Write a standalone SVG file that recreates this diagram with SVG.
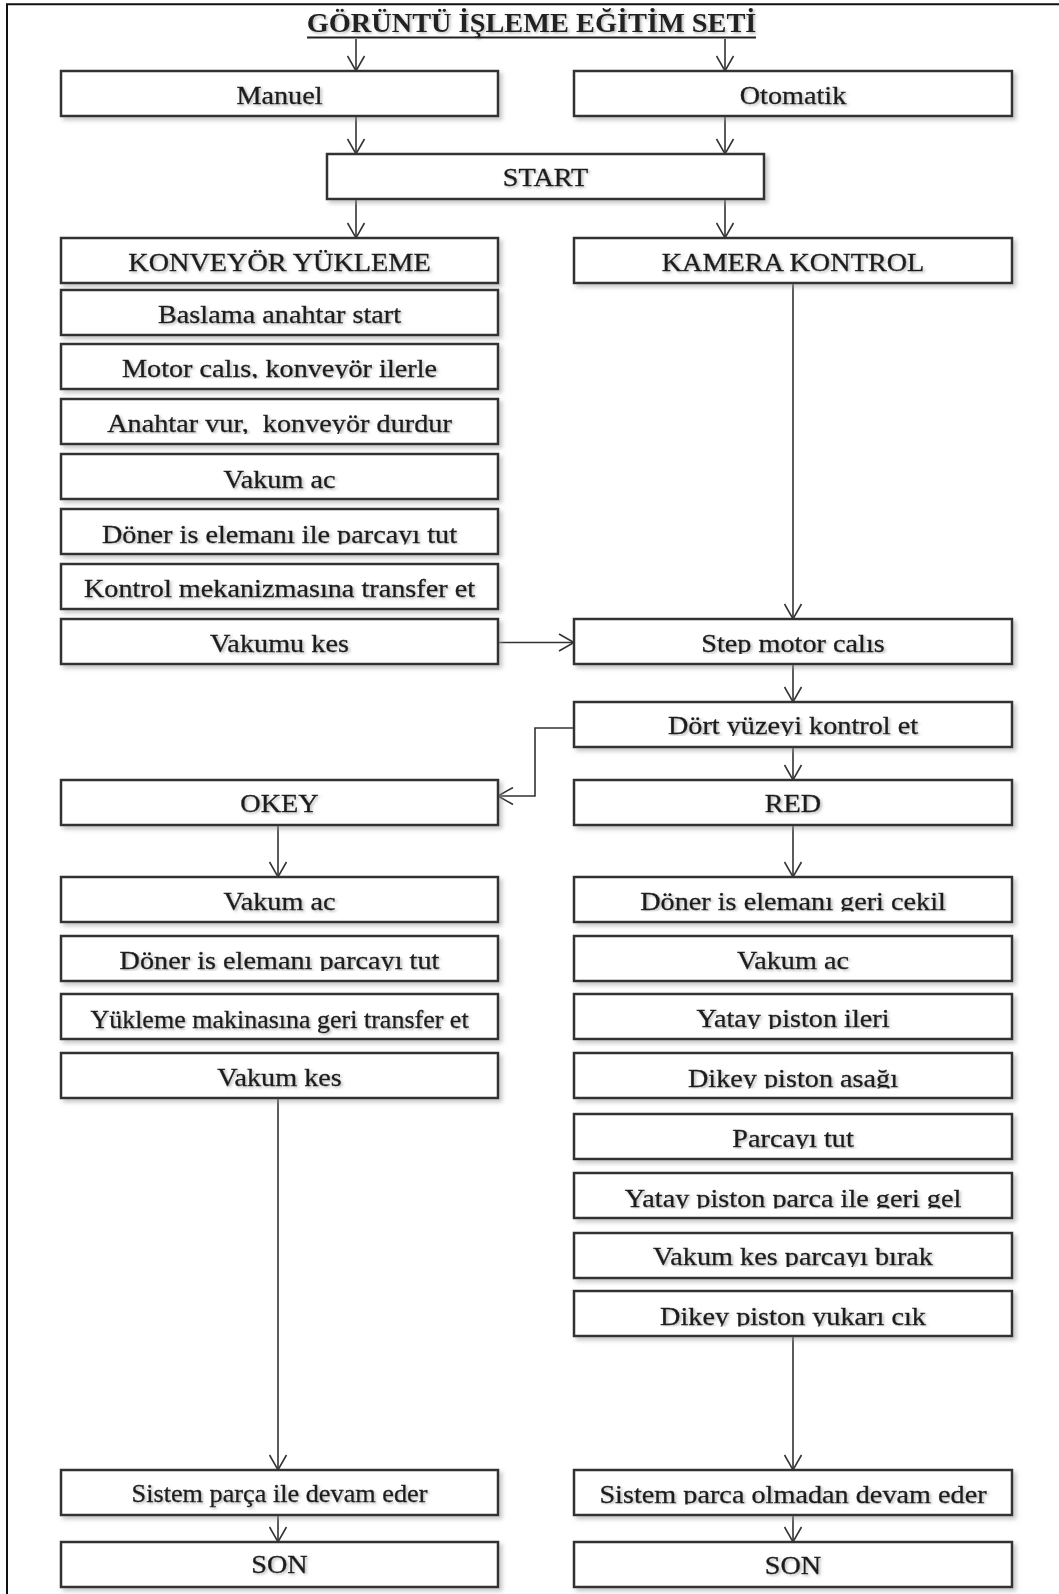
<svg xmlns="http://www.w3.org/2000/svg" width="1059" height="1594" viewBox="0 0 1059 1594">
<style>
.box{fill:#fff;stroke:#333;stroke-width:2.5;filter:url(#bs)}
.lbl{font-family:"Liberation Serif","Times New Roman",serif;font-size:25px;fill:#1c1c1c;stroke:#1c1c1c;stroke-width:0.35;text-anchor:middle;filter:url(#ts)}
.ttl{font-family:"Liberation Serif","Times New Roman",serif;font-size:26.5px;font-weight:bold;fill:#222;text-anchor:middle;filter:url(#ts)}
.conn{fill:none;stroke:#333;stroke-width:1.6;marker-end:url(#ah)}
.frame{fill:none;stroke:#111;stroke-width:2}
.cl{clip-path:url(#desc)}
</style>
<defs>
<filter id="bs" x="-5%" y="-20%" width="115%" height="160%">
<feDropShadow dx="3" dy="3" stdDeviation="2" flood-color="#999" flood-opacity="0.55"/>
</filter>
<filter id="ts" x="-10%" y="-30%" width="120%" height="170%">
<feDropShadow dx="1.5" dy="1.5" stdDeviation="1.2" flood-color="#888" flood-opacity="0.6"/>
</filter>
<clipPath id="desc" clipPathUnits="userSpaceOnUse"><rect x="-300" y="-40" width="600" height="42"/></clipPath>
<marker id="ah" markerUnits="userSpaceOnUse" viewBox="0 0 18 19" refX="16" refY="9.5" markerWidth="18" markerHeight="19" orient="auto">
<path d="M1,1 L16,9.5 L1,18" fill="none" stroke="#333" stroke-width="1.6"/>
</marker>
</defs>
<rect x="0" y="0" width="1059" height="1594" fill="#fff"/>
<g id="frame">
<path class="frame" d="M7,1594 L7,4.2 L1059,4.2"/>
</g>
<g id="title">
<text class="ttl" transform="translate(531.5 32) scale(1.07 1)">GÖRÜNTÜ İŞLEME EĞİTİM SETİ</text>
<line x1="307" y1="37.5" x2="756" y2="37.5" stroke="#222" stroke-width="2.2"/>
</g>
<g id="connectors">
<line class="conn" x1="356" y1="39" x2="356" y2="71"/>
<line class="conn" x1="725" y1="39" x2="725" y2="71"/>
<line class="conn" x1="356" y1="116" x2="356" y2="154"/>
<line class="conn" x1="725" y1="116" x2="725" y2="154"/>
<line class="conn" x1="356" y1="199" x2="356" y2="238"/>
<line class="conn" x1="725" y1="199" x2="725" y2="238"/>
<line class="conn" x1="793" y1="283" x2="793" y2="619"/>
<line class="conn" x1="498" y1="642.5" x2="574" y2="642.5"/>
<line class="conn" x1="793" y1="664" x2="793" y2="702"/>
<line class="conn" x1="793" y1="747" x2="793" y2="780"/>
<polyline class="conn" points="574,728 535,728 535,796 498,796"/>
<line class="conn" x1="278" y1="825" x2="278" y2="877"/>
<line class="conn" x1="793" y1="825" x2="793" y2="877"/>
<line class="conn" x1="278" y1="1098" x2="278" y2="1470"/>
<line class="conn" x1="793" y1="1336" x2="793" y2="1470"/>
<line class="conn" x1="278" y1="1515" x2="278" y2="1542"/>
<line class="conn" x1="793" y1="1515" x2="793" y2="1542"/>
</g>
<g id="n-manuel"><rect class="box" x="61" y="71" width="437" height="45"/><text class="lbl" transform="translate(279.5 104) scale(1.13 1)">Manuel</text></g>
<g id="n-otomatik"><rect class="box" x="574" y="71" width="438" height="45"/><text class="lbl" transform="translate(793 104) scale(1.13 1)">Otomatik</text></g>
<g id="n-start"><rect class="box" x="327" y="154" width="437" height="45"/><text class="lbl" transform="translate(545.5 185.5) scale(1.13 1)">START</text></g>
<g id="n-konveyor"><rect class="box" x="61" y="238" width="437" height="45"/><text class="lbl" transform="translate(279.5 270.5) scale(1.13 1)">KONVEYÖR YÜKLEME</text></g>
<g id="n-kamera"><rect class="box" x="574" y="238" width="438" height="45"/><text class="lbl" transform="translate(793 270.5) scale(1.13 1)">KAMERA KONTROL</text></g>
<g id="n-baslama"><rect class="box" x="61" y="290" width="437" height="45"/><text class="lbl" transform="translate(279.5 322.5) scale(1.13 1)">Baslama anahtar start</text></g>
<g id="n-motor"><rect class="box" x="61" y="344" width="437" height="45"/><text class="lbl cl" transform="translate(279.5 376.5) scale(1.13 1)">Motor calıs, konveyör ilerle</text></g>
<g id="n-anahtar"><rect class="box" x="61" y="399" width="437" height="45"/><text class="lbl cl" transform="translate(279.5 432) scale(1.13 1)" xml:space="preserve">Anahtar vur,  konveyör durdur</text></g>
<g id="n-vakumac1"><rect class="box" x="61" y="454" width="437" height="45"/><text class="lbl" transform="translate(279.5 487.5) scale(1.13 1)">Vakum ac</text></g>
<g id="n-doner1"><rect class="box" x="61" y="509" width="437" height="45"/><text class="lbl cl" transform="translate(279.5 542.5) scale(1.13 1)">Döner is elemanı ile parcayı tut</text></g>
<g id="n-kontrol"><rect class="box" x="61" y="564" width="437" height="45"/><text class="lbl" transform="translate(279.5 597) scale(1.13 1)">Kontrol mekanizmasına transfer et</text></g>
<g id="n-vakumukes"><rect class="box" x="61" y="619" width="437" height="45"/><text class="lbl" transform="translate(279.5 651.5) scale(1.13 1)">Vakumu kes</text></g>
<g id="n-step"><rect class="box" x="574" y="619" width="438" height="45"/><text class="lbl cl" transform="translate(793 652) scale(1.13 1)">Step motor calıs</text></g>
<g id="n-dort"><rect class="box" x="574" y="702" width="438" height="45"/><text class="lbl cl" transform="translate(793 734) scale(1.13 1)">Dört yüzeyi kontrol et</text></g>
<g id="n-okey"><rect class="box" x="61" y="780" width="437" height="45"/><text class="lbl" transform="translate(279.5 811.5) scale(1.13 1)">OKEY</text></g>
<g id="n-red"><rect class="box" x="574" y="780" width="438" height="45"/><text class="lbl" transform="translate(793 811.5) scale(1.13 1)">RED</text></g>
<g id="n-vakumac2"><rect class="box" x="61" y="877" width="437" height="45"/><text class="lbl" transform="translate(279.5 910) scale(1.13 1)">Vakum ac</text></g>
<g id="n-doner2"><rect class="box" x="61" y="936" width="437" height="45"/><text class="lbl cl" transform="translate(279.5 969) scale(1.13 1)">Döner is elemanı parcayı tut</text></g>
<g id="n-yukleme"><rect class="box" x="61" y="994" width="437" height="45"/><text class="lbl" transform="translate(279.5 1027.5) scale(1.04 1)">Yükleme makinasına geri transfer et</text></g>
<g id="n-vakumkes1"><rect class="box" x="61" y="1053" width="437" height="45"/><text class="lbl" transform="translate(279.5 1086) scale(1.13 1)">Vakum kes</text></g>
<g id="n-donergeri"><rect class="box" x="574" y="877" width="438" height="45"/><text class="lbl cl" transform="translate(793 909.5) scale(1.13 1)">Döner is elemanı geri cekil</text></g>
<g id="n-vakumac3"><rect class="box" x="574" y="936" width="438" height="45"/><text class="lbl" transform="translate(793 968.5) scale(1.13 1)">Vakum ac</text></g>
<g id="n-yatay1"><rect class="box" x="574" y="994" width="438" height="45"/><text class="lbl cl" transform="translate(793 1027) scale(1.13 1)">Yatay piston ileri</text></g>
<g id="n-dikey1"><rect class="box" x="574" y="1053" width="438" height="45"/><text class="lbl cl" transform="translate(793 1086.5) scale(1.13 1)">Dikey piston asağı</text></g>
<g id="n-parca"><rect class="box" x="574" y="1114" width="438" height="45"/><text class="lbl cl" transform="translate(793 1147) scale(1.13 1)">Parcayı tut</text></g>
<g id="n-yatay2"><rect class="box" x="574" y="1173" width="438" height="45"/><text class="lbl cl" transform="translate(793 1206.5) scale(1.13 1)">Yatay piston parca ile geri gel</text></g>
<g id="n-vakumkes2"><rect class="box" x="574" y="1233" width="438" height="45"/><text class="lbl cl" transform="translate(793 1265) scale(1.13 1)">Vakum kes parcayı bırak</text></g>
<g id="n-dikey2"><rect class="box" x="574" y="1291" width="438" height="45"/><text class="lbl cl" transform="translate(793 1324.5) scale(1.13 1)">Dikey piston yukarı cık</text></g>
<g id="n-sistem1"><rect class="box" x="61" y="1470" width="437" height="45"/><text class="lbl" transform="translate(279.5 1501.5) scale(1.05 1)">Sistem parça ile devam eder</text></g>
<g id="n-sistem2"><rect class="box" x="574" y="1470" width="438" height="45"/><text class="lbl cl" transform="translate(793 1502.5) scale(1.13 1)">Sistem parca olmadan devam eder</text></g>
<g id="n-son1"><rect class="box" x="61" y="1542" width="437" height="45"/><text class="lbl" transform="translate(279.5 1573) scale(1.13 1)">SON</text></g>
<g id="n-son2"><rect class="box" x="574" y="1542" width="438" height="45"/><text class="lbl" transform="translate(793 1573.5) scale(1.13 1)">SON</text></g>
</svg>
